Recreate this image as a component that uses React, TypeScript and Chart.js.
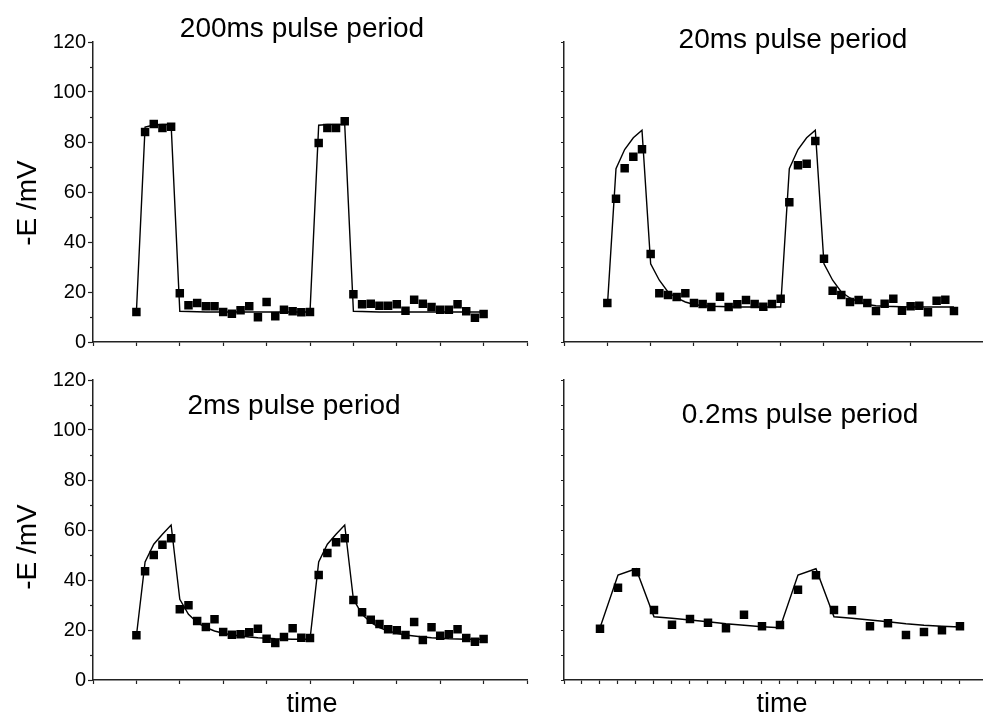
import React, { useEffect, useRef } from 'react';
import { Chart, registerables } from 'chart.js';

Chart.register(...registerables);

const FONT = "'Liberation Sans', Arial, Helvetica, sans-serif";
const AXIS = '#222';

// time index (sample number) for the three long panels
const TIME_A = [5, 6, 7, 8, 9, 10, 11, 12, 13, 14, 15, 16, 17, 18, 19, 20, 21, 22, 23, 24, 25,
  26, 27, 28, 29, 30, 31, 32, 33, 34, 35, 36, 37, 38, 39, 40, 41, 42, 43, 44, 45];
// time index for the 0.2 ms panel
const TIME_D = [2, 3, 4, 5, 6, 7, 8, 9, 10, 11, 12, 13, 14, 15, 16, 17, 18, 19, 20, 21, 22];

const Y_MINOR = [10, 30, 50, 70, 90, 110];

const MEAS_200 = [12, 84, 87.2, 85.6, 86.1, 19.5, 14.7, 15.6, 14.3, 14.3, 12, 11.3, 12.7, 14.3, 9.9,
  16, 10.3, 12.9, 12.3, 11.9, 12, 79.6, 85.6, 85.6, 88.3, 19.1, 15.1, 15.3, 14.5, 14.5, 15.1, 12.5,
  16.9, 15.3, 14, 12.9, 12.9, 15.1, 12.3, 9.7, 11.2];
const FIT_200 = [12, 86, 86.8, 87, 87, 12.3, 12.2, 12.1, 12, 12, 12, 12, 12, 12, 12, 12, 12, 12, 12,
  12, 12, 86.7, 87, 87, 87, 12.3, 12.2, 12.1, 12, 12, 12, 12, 12, 12, 12, 12, 12, 12, 12, 12, 12];

const MEAS_20 = [15.6, 57.3, 69.5, 74.1, 77.1, 35.2, 19.5, 18.8, 18, 19.5, 15.6, 15.2, 14, 18.1, 14,
  15.1, 16.8, 15.2, 14.1, 15.2, 17.3, 55.9, 70.7, 71.3, 80.4, 33.3, 20.5, 18.8, 16, 16.8, 15.6, 12.4,
  15.3, 17.3, 12.5, 14.3, 14.5, 11.9, 16.5, 16.9, 12.4];
const FIT_20 = [14, 69.3, 77, 81.7, 84.7, 31.3, 24.7, 20, 17.6, 16, 15, 14.5, 14.3, 14.2, 14.1, 14, 14,
  14, 14, 14, 14, 69.3, 77, 81.7, 84.7, 31.3, 24.7, 20, 17.6, 16, 15, 14.5, 14.3, 14.2, 14.1, 14, 14,
  14, 14, 14, 14];

const MEAS_2 = [17.9, 43.5, 50, 54.1, 56.7, 28.3, 29.9, 23.6, 21.2, 24.3, 19.2, 18.1, 18.3, 19.1, 20.5,
  16.5, 14.8, 17.2, 20.7, 16.9, 16.8, 42, 50.8, 55.1, 56.7, 32, 27.1, 24.1, 22.4, 20.3, 19.9, 18, 23.2,
  16, 21.1, 17.7, 18.3, 20.3, 16.8, 15.3, 16.4];
const FIT_2 = [17.6, 47.2, 54.3, 58.3, 62, 32.3, 26.3, 23, 21, 19.6, 18.7, 18, 17.6, 17.2, 16.9, 16.7,
  16.5, 16.4, 16.3, 16.3, 16.3, 47.2, 54.3, 58.3, 62, 32.3, 26.3, 23, 21, 19.6, 18.7, 18, 17.6, 17.2,
  16.9, 16.7, 16.5, 16.4, 16.3, 16.3, 16.3];

const MEAS_02 = [20.5, 36.9, 43.1, 28, 22.1, 24.4, 22.9, 20.7, 26.1, 21.5, 22, 36.1, 41.9, 28, 27.9,
  21.5, 22.7, 18, 19.2, 19.9, 21.5];
const FIT_02 = [20.9, 42, 44.5, 25.3, 24.7, 24, 23.3, 22.5, 21.9, 21.3, 20.9, 42, 44.5, 25.3, 24.7, 24,
  23.3, 22.5, 21.9, 21.5, 21.2];

type TextItem = { text: string; x: number; y: number; size: number; rotate?: boolean };

type PanelDef = {
  left: number; top: number; w: number; h: number;
  padTop: number; padRight: number; yW: number; xH: number;
  xMax: number; xStep: number; labels: boolean;
  time: number[]; meas: number[]; fit: number[];
  texts: TextItem[];
};

const textPlugin = {
  id: 'panelText',
  afterDraw(chart: any, _args: any, opts: any) {
    const ctx = chart.ctx as CanvasRenderingContext2D;
    const yScale = chart.scales.y;
    const left = chart.chartArea.left;
    if (opts.minor) {
      ctx.save();
      ctx.strokeStyle = AXIS;
      ctx.lineWidth = 1.2;
      for (const v of Y_MINOR) {
        const py = Math.round(yScale.getPixelForValue(v)) + 0.5;
        ctx.beginPath();
        ctx.moveTo(left - 3, py);
        ctx.lineTo(left, py);
        ctx.stroke();
      }
      ctx.restore();
    }
    for (const t of opts.items as TextItem[]) {
      ctx.save();
      ctx.font = `${t.size}px ${FONT}`;
      ctx.fillStyle = '#000';
      ctx.textAlign = 'center';
      ctx.textBaseline = 'alphabetic';
      ctx.translate(t.x, t.y);
      if (t.rotate) ctx.rotate(-Math.PI / 2);
      ctx.fillText(t.text, 0, 0);
      ctx.restore();
    }
  },
};

function buildConfig(p: PanelDef): any {
  const items = p.texts.map((t) => ({ ...t, x: t.x - p.left, y: t.y - p.top }));
  return {
    type: 'line',
    data: {
      datasets: [
        {
          data: p.time.map((x, i) => ({ x, y: p.meas[i] })),
          showLine: false,
          pointStyle: 'rect',
          pointRadius: 6,
          pointBackgroundColor: '#000',
          pointBorderWidth: 0,
          pointBorderColor: '#000',
          clip: false,
        },
        {
          data: p.time.map((x, i) => ({ x, y: p.fit[i] })),
          borderColor: '#000',
          borderWidth: 1.4,
          pointRadius: 0,
          tension: 0,
          fill: false,
        },
      ],
    },
    options: {
      animation: false,
      responsive: false,
      layout: { autoPadding: false, padding: { top: p.padTop, right: p.padRight, left: 0, bottom: 0 } },
      plugins: {
        legend: { display: false },
        tooltip: { enabled: false },
        panelText: { items, minor: p.labels },
      },
      scales: {
        x: {
          type: 'linear',
          min: 0,
          max: p.xMax,
          ticks: { display: false, stepSize: p.xStep },
          grid: { drawOnChartArea: false, drawTicks: true, tickLength: 4, tickColor: AXIS, tickWidth: 1.2 },
          border: { color: AXIS, width: 1.5 },
          afterBuildTicks: (s: any) => {
            s.ticks = s.ticks.filter((t: any) => Math.abs(t.value / p.xStep - Math.round(t.value / p.xStep)) < 1e-6);
          },
          afterFit: (s: any) => { s.height = p.xH; },
        },
        y: {
          min: 0,
          max: 120,
          ticks: {
            display: p.labels,
            stepSize: p.labels ? 20 : 10,
            font: { family: FONT, size: 20 },
            color: '#000',
            padding: 2,
          },
          grid: { drawOnChartArea: false, drawTicks: true, tickLength: p.labels ? 5 : 3, tickColor: AXIS, tickWidth: 1.2 },
          border: { color: AXIS, width: 1.5 },
          afterFit: (s: any) => { s.width = p.yW; },
        },
      },
    },
    plugins: [textPlugin],
  };
}

const PANELS: PanelDef[] = [
  {
    left: 0, top: 0, w: 540, h: 360, padTop: 42, padRight: 13, yW: 93, xH: 18,
    xMax: 50, xStep: 5, labels: true, time: TIME_A, meas: MEAS_200, fit: FIT_200,
    texts: [
      { text: '200ms pulse period', x: 302, y: 37, size: 28 },
      { text: '-E /mV', x: 36, y: 203, size: 28, rotate: true },
    ],
  },
  {
    left: 544, top: 0, w: 439, h: 360, padTop: 42, padRight: 0, yW: 20, xH: 18,
    xMax: 48.35, xStep: 5, labels: false, time: TIME_A, meas: MEAS_20, fit: FIT_20,
    texts: [{ text: '20ms pulse period', x: 793, y: 48, size: 28 }],
  },
  {
    left: 0, top: 362, w: 540, h: 353, padTop: 18, padRight: 13, yW: 93, xH: 35,
    xMax: 50, xStep: 5, labels: true, time: TIME_A, meas: MEAS_2, fit: FIT_2,
    texts: [
      { text: '2ms pulse period', x: 294, y: 414, size: 28 },
      { text: '-E /mV', x: 36, y: 547, size: 28, rotate: true },
      { text: 'time', x: 312, y: 712, size: 27 },
    ],
  },
  {
    left: 544, top: 362, w: 439, h: 353, padTop: 18, padRight: 0, yW: 20, xH: 35,
    xMax: 23.28, xStep: 1, labels: false, time: TIME_D, meas: MEAS_02, fit: FIT_02,
    texts: [
      { text: '0.2ms pulse period', x: 800, y: 423, size: 28 },
      { text: 'time', x: 782, y: 712, size: 27 },
    ],
  },
];

function Panel({ p }: { p: PanelDef }) {
  const ref = useRef<HTMLCanvasElement>(null);
  useEffect(() => {
    if (!ref.current) return;
    const chart = new Chart(ref.current, buildConfig(p));
    return () => chart.destroy();
  }, [p]);
  return (
    <canvas
      ref={ref}
      width={p.w}
      height={p.h}
      style={{ position: 'absolute', left: p.left, top: p.top, width: p.w, height: p.h }}
    />
  );
}

export default function App() {
  return (
    <div style={{ position: 'absolute', left: 0, top: 0, width: 983, height: 715, background: '#fff', overflow: 'hidden' }}>
      {PANELS.map((p, i) => (
        <Panel key={i} p={p} />
      ))}
    </div>
  );
}
